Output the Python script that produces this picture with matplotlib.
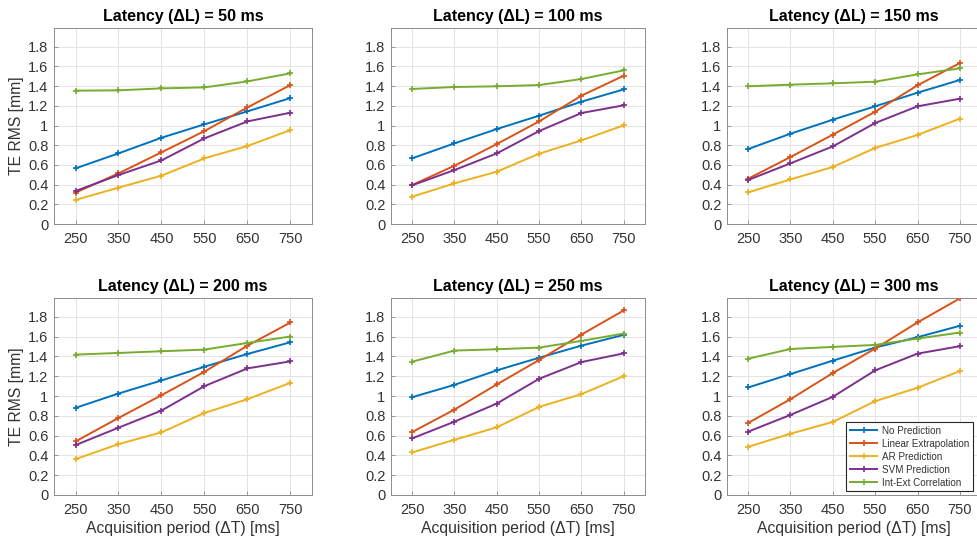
import numpy as np
import matplotlib
matplotlib.use("Agg")
import matplotlib.pyplot as plt
from matplotlib.ticker import FuncFormatter

plt.rcParams["font.family"] = ["Liberation Sans", "DejaVu Sans"]

periods = [250, 350, 450, 550, 650, 750]
latencies = [50, 100, 150, 200, 250, 300]
methods = ["No Prediction", "Linear Extrapolation", "AR Prediction",
           "SVM Prediction", "Int-Ext Correlation"]
colors = ["#0072BD", "#D95319", "#EDB120", "#7E2F8E", "#77AC30"]

# TE RMS [mm] per latency, one list per method (same order as `methods`)
no_pred = {
    50:  [0.565, 0.717, 0.876, 1.012, 1.144, 1.279],
    100: [0.667, 0.819, 0.964, 1.100, 1.242, 1.367],
    150: [0.761, 0.917, 1.059, 1.195, 1.333, 1.462],
    200: [0.880, 1.025, 1.157, 1.296, 1.425, 1.543],
    250: [0.988, 1.113, 1.259, 1.387, 1.509, 1.618],
    300: [1.086, 1.222, 1.357, 1.489, 1.594, 1.709],
}
linear_extrap = {
    50:  [0.318, 0.514, 0.728, 0.944, 1.184, 1.411],
    100: [0.396, 0.592, 0.812, 1.042, 1.303, 1.506],
    150: [0.460, 0.680, 0.907, 1.140, 1.408, 1.634],
    200: [0.541, 0.778, 1.008, 1.245, 1.509, 1.743],
    250: [0.636, 0.863, 1.117, 1.364, 1.621, 1.865],
    300: [0.728, 0.968, 1.232, 1.479, 1.743, 1.986],
}
ar_pred = {
    50:  [0.244, 0.369, 0.491, 0.667, 0.792, 0.954],
    100: [0.277, 0.413, 0.531, 0.714, 0.849, 1.002],
    150: [0.321, 0.453, 0.579, 0.772, 0.904, 1.069],
    200: [0.362, 0.514, 0.633, 0.829, 0.968, 1.134],
    250: [0.430, 0.558, 0.684, 0.890, 1.019, 1.201],
    300: [0.487, 0.619, 0.738, 0.948, 1.083, 1.252],
}
svm_pred = {
    50:  [0.335, 0.497, 0.646, 0.870, 1.042, 1.130],
    100: [0.393, 0.548, 0.717, 0.944, 1.127, 1.205],
    150: [0.447, 0.616, 0.788, 1.025, 1.195, 1.272],
    200: [0.504, 0.680, 0.853, 1.100, 1.279, 1.350],
    250: [0.572, 0.741, 0.924, 1.174, 1.343, 1.431],
    300: [0.640, 0.809, 0.992, 1.259, 1.428, 1.503],
}
int_ext = {
    50:  [1.354, 1.357, 1.377, 1.387, 1.448, 1.530],
    100: [1.371, 1.391, 1.398, 1.411, 1.472, 1.560],
    150: [1.398, 1.415, 1.428, 1.445, 1.519, 1.580],
    200: [1.418, 1.435, 1.452, 1.469, 1.536, 1.601],
    250: [1.347, 1.459, 1.472, 1.489, 1.557, 1.631],
    300: [1.377, 1.475, 1.496, 1.516, 1.580, 1.641],
}
series = [no_pred, linear_extrap, ar_pred, svm_pred, int_ext]

yticks = [0, 0.2, 0.4, 0.6, 0.8, 1.0, 1.2, 1.4, 1.6, 1.8]

W, H = 978, 545
fig = plt.figure(figsize=(W / 100, H / 100), dpi=100)

# axes boxes in pixels: (left, top, right, bottom)
col_x = [(54, 312), (391, 645), (727, 981)]
row_y = [(28, 224), (298, 495)]

text_col = "#333333"
axis_col = "#8c8c8c"

for i, lat in enumerate(latencies):
    r, c = divmod(i, 3)
    x0, x1 = col_x[c]
    y0, y1 = row_y[r]
    ax = fig.add_axes([x0 / W, 1 - y1 / H, (x1 - x0) / W, (y1 - y0) / H])

    for name, col, data in zip(methods, colors, series):
        ax.plot(periods, data[lat], color=col, lw=1.4, marker="+",
                markersize=5, markeredgewidth=1.2, label=name)

    ax.set_xlim(200, 800)
    ax.set_ylim(0, 1.99)
    ax.set_xticks(periods)
    ax.set_yticks(yticks)
    ax.yaxis.set_major_formatter(FuncFormatter(lambda v, _: f"{v:g}"))
    ax.grid(True, color="#e3e3e3", lw=0.7)
    ax.set_axisbelow(True)
    ax.tick_params(direction="in", length=3, width=0.6, color=axis_col,
                   labelsize=10.5, labelcolor=text_col)
    ax.tick_params(axis="x", pad=6)
    ax.tick_params(axis="y", pad=4)
    for sp in ax.spines.values():
        sp.set_color(axis_col)
        sp.set_linewidth(0.7)

    ax.set_title(f"Latency (\u0394L) = {lat} ms", fontsize=11.5,
                 fontweight="bold", color="black", pad=5)
    if c == 0:
        ax.set_ylabel("TE RMS [mm]", fontsize=11.3, color=text_col, labelpad=3)
    if r == 1:
        ax.set_xlabel("Acquisition period (\u0394T) [ms]", fontsize=11.3,
                      color=text_col, labelpad=3)

    if i == len(latencies) - 1:
        leg = ax.legend(loc="lower right", bbox_to_anchor=(0.9685, 0.02),
                        borderaxespad=0, fontsize=7.1, fancybox=False,
                        handlelength=2.8, labelspacing=0.3,
                        borderpad=0.35, handletextpad=0.5, framealpha=1)
        leg.get_frame().set_edgecolor("#262626")
        leg.get_frame().set_linewidth(0.8)
        for t in leg.get_texts():
            t.set_color(text_col)

fig.savefig("out.png", dpi=100)
